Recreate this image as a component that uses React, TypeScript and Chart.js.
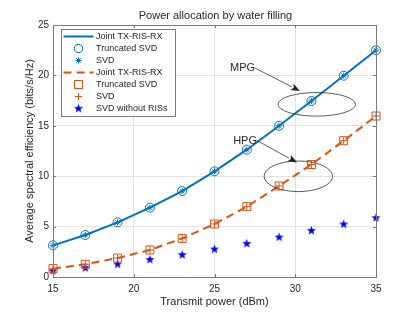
import React, { useEffect, useRef } from "react";
import { Chart, registerables } from "chart.js";
Chart.register(...registerables);

// ---- data ----
const powerDbm = [15, 17, 19, 21, 23, 25, 27, 29, 31, 33, 35];
const mpgJoint = [3.14, 4.17, 5.42, 6.88, 8.53, 10.48, 12.63, 15.0, 17.46, 19.97, 22.5];
const mpgTruncated = [3.14, 4.17, 5.42, 6.88, 8.53, 10.48, 12.63, 15.0, 17.46, 19.97, 22.5];
const mpgSvd = [3.14, 4.17, 5.42, 6.88, 8.53, 10.48, 12.63, 15.0, 17.46, 19.97, 22.5];
const hpgJoint = [0.83, 1.26, 1.88, 2.68, 3.83, 5.26, 6.98, 9.03, 11.16, 13.52, 15.97];
const hpgTruncated = [0.83, 1.26, 1.88, 2.68, 3.83, 5.26, 6.98, 9.03, 11.16, 13.52, 15.97];
const hpgSvd = [0.83, 1.26, 1.88, 2.68, 3.83, 5.26, 6.98, 9.03, 11.16, 13.52, 15.97];
const svdNoRis = [0.63, 0.93, 1.29, 1.75, 2.22, 2.78, 3.34, 3.97, 4.63, 5.26, 5.89];

const xTicks = [15, 20, 25, 30, 35];
const yTicks = [0, 5, 10, 15, 20, 25];

const legendLabels = [
  "Joint TX-RIS-RX",
  "Truncated SVD",
  "SVD",
  "Joint TX-RIS-RX",
  "Truncated SVD",
  "SVD",
  "SVD without RISs",
];

// annotations (data coordinates)
const noteLabels = ["MPG", "HPG"];
const noteStartX = [27.51, 27.63];
const noteStartY = [20.73, 13.54];
const noteTipX = [30.29, 30.11];
const noteTipY = [18.45, 11.36];
const ellipseCX = [31.33, 30.19];
const ellipseCY = [17.13, 9.99];
const ellipseRX = [2.4, 2.12];
const ellipseRY = [1.17, 1.52];

const BLUE = "#0072BD";
const ORANGE = "#D95319";
const STAR = "#0000FF";
const TEXT = "#262626";
const AXIS = "#7a7a7a";
const FONT = "'Liberation Sans', Arial, Helvetica, sans-serif";

function starPath(ctx: CanvasRenderingContext2D, cx: number, cy: number, ro: number, ri: number) {
  ctx.beginPath();
  for (let i = 0; i < 10; i++) {
    const r = i % 2 === 0 ? ro : ri;
    const a = -Math.PI / 2 + (i * Math.PI) / 5;
    const px = cx + r * Math.cos(a);
    const py = cy + r * Math.sin(a);
    if (i === 0) ctx.moveTo(px, py);
    else ctx.lineTo(px, py);
  }
  ctx.closePath();
}

function makeStarImage(): HTMLCanvasElement {
  const c = document.createElement("canvas");
  c.width = 11;
  c.height = 11;
  const g = c.getContext("2d")!;
  g.fillStyle = STAR;
  starPath(g, 5.5, 5.8, 4.8, 2.0);
  g.fill();
  return c;
}

function drawMarker(ctx: CanvasRenderingContext2D, kind: string, x: number, y: number, color: string, starImg: HTMLCanvasElement) {
  ctx.save();
  ctx.strokeStyle = color;
  ctx.fillStyle = color;
  ctx.lineWidth = 1;
  if (kind === "circle") {
    ctx.beginPath();
    ctx.arc(x, y, 4.2, 0, Math.PI * 2);
    ctx.stroke();
  } else if (kind === "asterisk") {
    const r = 3;
    ctx.beginPath();
    for (let i = 0; i < 4; i++) {
      const a = (i * Math.PI) / 4;
      ctx.moveTo(x - r * Math.cos(a), y - r * Math.sin(a));
      ctx.lineTo(x + r * Math.cos(a), y + r * Math.sin(a));
    }
    ctx.stroke();
  } else if (kind === "square") {
    ctx.strokeRect(x - 4, y - 4, 8, 8);
  } else if (kind === "plus") {
    ctx.beginPath();
    ctx.moveTo(x - 3.5, y);
    ctx.lineTo(x + 3.5, y);
    ctx.moveTo(x, y - 3.5);
    ctx.lineTo(x, y + 3.5);
    ctx.stroke();
  } else if (kind === "star") {
    ctx.drawImage(starImg, x - 5.5, y - 5.8);
  }
  ctx.restore();
}

export default function App() {
  const ref = useRef<HTMLCanvasElement | null>(null);

  useEffect(() => {
    document.body.style.margin = "0";
    const canvas = ref.current;
    if (!canvas) return;
    const starImg = makeStarImage();

    const toPts = (ys: number[]) => powerDbm.map((x, i) => ({ x, y: ys[i] }));

    const overlay = {
      id: "overlay",
      afterDraw(chart: any) {
        const ctx: CanvasRenderingContext2D = chart.ctx;
        const { left, right, top, bottom } = chart.chartArea;
        const xs = chart.scales.x;
        const ys = chart.scales.y;
        ctx.save();
        // box
        ctx.strokeStyle = AXIS;
        ctx.lineWidth = 1;
        ctx.strokeRect(Math.round(left) + 0.5, Math.round(top) + 0.5, Math.round(right - left), Math.round(bottom - top));
        // inward ticks
        ctx.beginPath();
        for (const t of xTicks) {
          const px = Math.round(xs.getPixelForValue(t)) + 0.5;
          ctx.moveTo(px, bottom);
          ctx.lineTo(px, bottom - 3);
          ctx.moveTo(px, top);
          ctx.lineTo(px, top + 3);
        }
        for (const t of yTicks) {
          const py = Math.round(ys.getPixelForValue(t)) + 0.5;
          ctx.moveTo(left, py);
          ctx.lineTo(left + 3, py);
          ctx.moveTo(right, py);
          ctx.lineTo(right - 3, py);
        }
        ctx.stroke();

        // title and axis titles
        ctx.fillStyle = TEXT;
        ctx.textAlign = "center";
        ctx.textBaseline = "middle";
        ctx.font = `11px ${FONT}`;
        ctx.fillText("Power allocation by water filling", (left + right) / 2 + 1, 15.5);
        ctx.fillText("Transmit power (dBm)", (left + right) / 2, 302);
        ctx.save();
        ctx.translate(30, (top + bottom) / 2);
        ctx.rotate(-Math.PI / 2);
        ctx.fillText("Average spectral efficiency (bits/s/Hz)", 0, 0);
        ctx.restore();

        // annotations
        ctx.strokeStyle = "#333";
        ctx.fillStyle = "#222";
        ctx.lineWidth = 0.8;
        for (let i = 0; i < noteLabels.length; i++) {
          const cx = xs.getPixelForValue(ellipseCX[i]);
          const cy = ys.getPixelForValue(ellipseCY[i]);
          const rx = xs.getPixelForValue(ellipseCX[i] + ellipseRX[i]) - cx;
          const ry = cy - ys.getPixelForValue(ellipseCY[i] + ellipseRY[i]);
          ctx.beginPath();
          ctx.ellipse(cx, cy, rx, ry, 0, 0, Math.PI * 2);
          ctx.stroke();

          const sx = xs.getPixelForValue(noteStartX[i]);
          const sy = ys.getPixelForValue(noteStartY[i]);
          const tx = xs.getPixelForValue(noteTipX[i]);
          const ty = ys.getPixelForValue(noteTipY[i]);
          const ang = Math.atan2(ty - sy, tx - sx);
          const hl = 9;
          const hw = 3.5;
          const bx = tx - hl * Math.cos(ang);
          const by = ty - hl * Math.sin(ang);
          ctx.beginPath();
          ctx.moveTo(sx, sy);
          ctx.lineTo(bx, by);
          ctx.stroke();
          ctx.beginPath();
          ctx.moveTo(tx, ty);
          ctx.lineTo(bx - hw * Math.sin(ang), by + hw * Math.cos(ang));
          ctx.lineTo(bx + 2 * Math.cos(ang), by + 2 * Math.sin(ang));
          ctx.lineTo(bx + hw * Math.sin(ang), by - hw * Math.cos(ang));
          ctx.closePath();
          ctx.fill();

          ctx.fillStyle = TEXT;
          ctx.font = `11px ${FONT}`;
          ctx.textAlign = "right";
          ctx.textBaseline = "middle";
          ctx.fillText(noteLabels[i], sx, sy);
          ctx.fillStyle = "#222";
        }

        // legend
        const lx = left + 8;
        const ly = top + 3.5;
        const lw = 114;
        const lh = 87;
        ctx.fillStyle = "#fff";
        ctx.fillRect(lx, ly, lw, lh);
        ctx.strokeStyle = AXIS;
        ctx.lineWidth = 1;
        ctx.strokeRect(Math.round(lx) + 0.5, Math.round(ly) + 0.5, lw, lh);
        const kinds = ["line", "circle", "asterisk", "dash", "square", "plus", "star"];
        const colors = [BLUE, BLUE, BLUE, ORANGE, ORANGE, ORANGE, STAR];
        for (let i = 0; i < legendLabels.length; i++) {
          const ry = ly + 8 + i * 12;
          const x0 = lx + 2.5;
          const x1 = lx + 32.5;
          const mx = (x0 + x1) / 2;
          if (kinds[i] === "line" || kinds[i] === "dash") {
            ctx.save();
            ctx.strokeStyle = colors[i];
            ctx.lineWidth = 2;
            if (kinds[i] === "dash") ctx.setLineDash([8, 5]);
            ctx.beginPath();
            ctx.moveTo(x0, ry);
            ctx.lineTo(x1, ry);
            ctx.stroke();
            ctx.restore();
          } else {
            drawMarker(ctx, kinds[i], mx, ry, colors[i], starImg);
          }
          ctx.fillStyle = TEXT;
          ctx.font = `9px ${FONT}`;
          ctx.textAlign = "left";
          ctx.textBaseline = "middle";
          ctx.fillText(legendLabels[i], lx + 35, ry);
        }
        ctx.restore();
      },
    };

    const chart = new Chart(canvas, {
      type: "line",
      data: {
        datasets: [
          { data: toPts(mpgJoint), borderColor: BLUE, borderWidth: 2, pointRadius: 0, fill: false, clip: false as any },
          { data: toPts(mpgTruncated), showLine: false, pointStyle: "circle", pointRadius: 4.5, borderColor: BLUE, backgroundColor: "rgba(0,0,0,0)", pointBorderWidth: 1, clip: false as any },
          { data: toPts(mpgSvd), showLine: false, pointStyle: "star", pointRadius: 3, borderColor: BLUE, pointBorderWidth: 1, clip: false as any },
          { data: toPts(hpgJoint), borderColor: ORANGE, borderWidth: 2, borderDash: [8, 5], pointRadius: 0, fill: false, clip: false as any },
          { data: toPts(hpgTruncated), showLine: false, pointStyle: "rect", pointRadius: 5.66, borderColor: ORANGE, backgroundColor: "rgba(0,0,0,0)", pointBorderWidth: 1, clip: false as any },
          { data: toPts(hpgSvd), showLine: false, pointStyle: "cross", pointRadius: 3.5, borderColor: ORANGE, pointBorderWidth: 1, clip: false as any },
          { data: toPts(svdNoRis), showLine: false, pointStyle: starImg as any, borderColor: STAR, backgroundColor: STAR, clip: false as any },
        ],
      },
      options: {
        animation: false,
        responsive: false,
        devicePixelRatio: 1,
        layout: { padding: { top: 25, right: 39, left: 0, bottom: 0 } },
        plugins: { legend: { display: false }, title: { display: false }, tooltip: { enabled: false } },
        events: [],
        scales: {
          x: {
            type: "linear",
            min: 15,
            max: 35,
            afterFit: (s: any) => { s.height = 35; },
            afterBuildTicks: (s: any) => { s.ticks = xTicks.map((v) => ({ value: v })); },
            grid: { color: "#e3e3e3", drawTicks: false },
            border: { display: false },
            ticks: { padding: 6, color: TEXT, font: { family: FONT, size: 10 }, maxRotation: 0 },
          },
          y: {
            type: "linear",
            min: 0,
            max: 25,
            afterFit: (s: any) => { s.width = 53; },
            afterBuildTicks: (s: any) => { s.ticks = yTicks.map((v) => ({ value: v })); },
            grid: { color: "#e3e3e3", drawTicks: false },
            border: { display: false },
            ticks: { padding: 4, color: TEXT, font: { family: FONT, size: 10 } },
          },
        },
      },
      plugins: [overlay],
    });
    return () => chart.destroy();
  }, []);

  return (
    <div style={{ position: "absolute", left: 0, top: 0, width: 415, height: 312, background: "#fff" }}>
      <canvas ref={ref} width={415} height={312} style={{ display: "block" }} />
    </div>
  );
}
